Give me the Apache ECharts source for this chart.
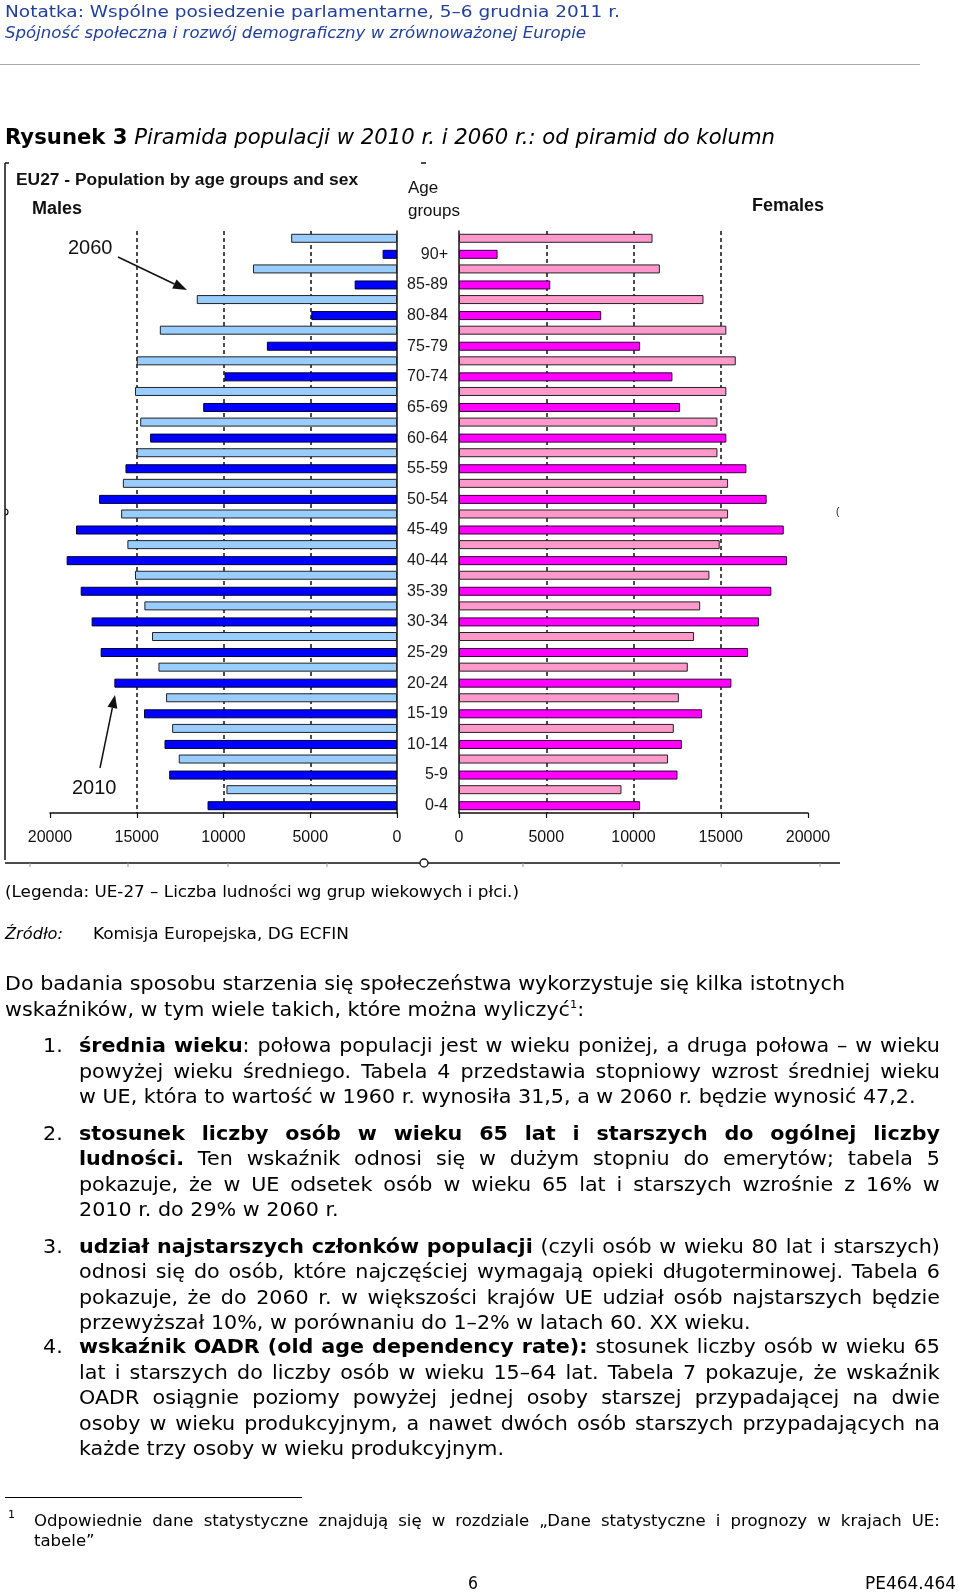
<!DOCTYPE html>
<html><head><meta charset="utf-8">
<script src="https://cdn.jsdelivr.net/npm/echarts@6/dist/echarts.min.js"></script>
<style>
html,body{margin:0;padding:0;background:#fff;}
#chart{position:absolute;left:0;top:0;width:960px;height:1594px;}
#txt{position:absolute;left:0;top:0;width:960px;height:1594px;pointer-events:none;font-family:"DejaVu Sans",Verdana,sans-serif;color:#000;}
.ln{position:absolute;white-space:nowrap;transform-origin:0 0;}
sup{font-size:0.55em;vertical-align:0.7em;line-height:0;}
</style></head><body>
<div id="chart"></div><div id="txt"></div>
<script>
// ---------- data ----------
const ageGroups = ['0-4','5-9','10-14','15-19','20-24','25-29','30-34','35-39','40-44','45-49','50-54','55-59','60-64','65-69','70-74','75-79','80-84','85-89','90+'];
const males2060   = [9830,12580,12960,13310,13750,14120,14560,15100,15540,15900,15800,15000,14800,15100,15000,13670,11540,8300,6100];
const males2010   = [10920,13130,13400,14580,16290,17080,17600,18230,19040,18500,17170,15650,14230,11170,9940,7500,4940,2440,830];
const females2060 = [9310,11980,12310,12600,13110,13470,13820,14350,14940,15420,15420,14810,14810,15320,15860,15320,14010,11510,11090];
const females2010 = [10380,12520,12770,13930,15610,16560,17190,17900,18800,18610,17630,16470,15320,12670,12230,10380,8150,5230,2210];
const axisMax = 20000;
const tickStep = 5000;

const FONT = '"Liberation Sans", Arial, sans-serif';
const chart = echarts.init(document.getElementById('chart'), null, {renderer:'canvas'});

function xAx(grid, inverse){
  return {
    gridIndex: grid, type:'value', inverse: inverse, min:0, max:axisMax, interval:tickStep,
    axisLine:{show:true, onZero:false, lineStyle:{color:'#111', width:1.5}},
    axisTick:{show:true, length:5, lineStyle:{color:'#111', width:1.2}},
    axisLabel:{margin:17, fontSize:16, lineHeight:16, color:'#111', fontFamily:FONT, formatter: v => String(v)},
    splitLine:{show:true, lineStyle:{type:[4,3], width:1.5, color:['rgba(0,0,0,0)','#111','#111','#111','rgba(0,0,0,0)']}}
  };
}
function barS(xi, data, color, border){
  return {type:'bar', xAxisIndex:xi, yAxisIndex:xi, data:data, barWidth:9, barGap:'78%',
    itemStyle:{color:color, borderColor:border, borderWidth:1}, silent:true, animation:false};
}
const ar = (x1,y1,x2,y2)=>({type:'line', z:100, shape:{x1,y1,x2,y2}, style:{stroke:'#111', lineWidth:1.5}});
const tx = (x,y,text,font,align)=>({type:'text', z:100, style:{x,y,text,font,fill:'#111',align:align||'left',verticalAlign:'middle'}});

const frameTicks = [30,128,228,327,523,622,721,820];
const graphics = [
  tx(16,180,'EU27 - Population by age groups and sex','bold 17.4px '+FONT),
  tx(32,209,'Males','bold 18px '+FONT),
  tx(752,206,'Females','bold 18px '+FONT),
  tx(408,188,'Age','17px '+FONT),
  tx(408,211,'groups','17px '+FONT),
  tx(68,248,'2060','20px '+FONT),
  tx(72,788,'2010','20px '+FONT),
  ar(118,257,174.4,284),
  {type:'polygon', z:100, shape:{points:[[187,290],[172.2,288.5],[176.5,279.5]]}, style:{fill:'#111'}},
  ar(100,768,112.4,707.7),
  {type:'polygon', z:100, shape:{points:[[115,695],[117.3,708.7],[107.5,706.7]]}, style:{fill:'#111'}},
  // page frame remnants
  ar(5,163,5,860), ar(5,163,9,163),
  ar(5,863,840,863),
  {type:'arc', z:100, shape:{cx:5,cy:512,r:3,startAngle:-Math.PI/2,endAngle:Math.PI/2}, style:{stroke:'#111',fill:null,lineWidth:1.2}},
  {type:'circle', z:101, shape:{cx:424,cy:863,r:4}, style:{fill:'#fff',stroke:'#111',lineWidth:1.3}},
  ar(421,163,426,163),
  tx(836,512,'(','10px '+FONT)
];
frameTicks.forEach(x=>graphics.push({type:'line', z:100, shape:{x1:x,y1:863,x2:x,y2:867}, style:{stroke:'#999',lineWidth:1}}));

chart.setOption({
  animation:false,
  backgroundColor:'#fff',
  grid:[{left:50, top:231, width:347, height:582},{left:459, top:231, width:349, height:582}],
  xAxis:[xAx(0,true), xAx(1,false)],
  yAxis:[
    {gridIndex:0, type:'category', data:ageGroups, position:'right',
     axisLine:{show:true, onZero:false, lineStyle:{color:'#111',width:1.5}}, axisTick:{show:false}, axisLabel:{show:false}, splitLine:{show:false}},
    {gridIndex:1, type:'category', data:ageGroups, position:'left',
     axisLine:{show:true, onZero:false, lineStyle:{color:'#111',width:1.5}}, axisTick:{show:false},
     axisLabel:{show:true, interval:0, margin:11, fontSize:16, lineHeight:16, verticalAlign:'top', color:'#1a1a1a', fontFamily:FONT}, splitLine:{show:false}}
  ],
  series:[
    barS(0, males2060, '#99CCFF', '#222'),
    barS(0, males2010, '#0000FF', '#000033'),
    barS(1, females2060, '#FF99CC', '#222'),
    barS(1, females2010, '#FF00FF', '#330033')
  ],
  graphic:{elements:graphics}
});

// ---------- document text ----------
const txt = document.getElementById('txt');
function measure(html, size, extra){
  const p = document.createElement('span');
  p.style.cssText = 'position:absolute;left:0;top:0;white-space:nowrap;visibility:hidden;font-size:'+size+'px;'+(extra||'');
  p.innerHTML = html; txt.appendChild(p);
  const w = p.getBoundingClientRect().width; p.remove(); return w;
}
function place(x, yc, size, html, s, extra){
  const d = document.createElement('div'); d.className='ln';
  d.style.cssText += 'left:'+x+'px;top:'+(yc-size/2)+'px;font-size:'+size+'px;line-height:'+size+'px;transform:scaleX('+s+');'+(extra||'');
  d.innerHTML = html; txt.appendChild(d); return d;
}
function ragged(x, yc, right, size, html, extra){
  const s = (right-x)/measure(html,size,extra);
  return place(x,yc,size,html,s,extra);
}
const md = src => src.replace(/\*([^*]+)\*/g,'<b>$1</b>');
function justified(x, yc, right, size, src, S){
  const W = right-x;
  const s = Math.min(S, W/measure(md(src),size));
  const d = document.createElement('div'); d.className='ln';
  d.style.cssText += 'left:'+x+'px;top:'+(yc-size/2)+'px;width:'+(W/s)+'px;font-size:'+size+'px;line-height:'+size+'px;display:flex;justify-content:space-between;transform:scaleX('+s+');';
  let bold=false; const parts=[];
  src.split(' ').forEach(tok=>{
    let cur = bold ? '<b>' : '';
    for (const ch of tok){
      if (ch==='*'){ if(bold){cur+='</b>';bold=false;} else {cur+='<b>';bold=true;} }
      else cur+=ch;
    }
    if (bold) cur+='</b>';
    parts.push('<span>'+cur+'</span>');
  });
  d.innerHTML = parts.join(''); txt.appendChild(d);
}

// header
ragged(5,12,620,16,'Notatka: Wspólne posiedzenie parlamentarne, 5–6 grudnia 2011 r.','color:#22409a;');
ragged(5,33,586,16,'Spójność społeczna i rozwój demograficzny w zrównoważonej Europie','color:#22409a;font-style:italic;');
const rule = document.createElement('div');
rule.style.cssText='position:absolute;left:0;top:64px;width:920px;height:0;border-top:1.5px solid #aaa;';
txt.appendChild(rule);
ragged(5,137,775,21,'<b>Rysunek 3</b> <i>Piramida populacji w 2010 r. i 2060 r.: od piramid do kolumn</i>');

// captions
ragged(5,892,519,16,'(Legenda: UE-27 – Liczba ludności wg grup wiekowych i płci.)');
ragged(5,934,63,16,'<i>Źródło:</i>');
ragged(93,934,349,16,'Komisja Europejska, DG ECFIN');

// paragraph
const p1 = 'Do badania sposobu starzenia się społeczeństwa wykorzystuje się kilka istotnych';
const S = (845-5)/measure(p1,20);
place(5,983,20,p1,S);
place(5,1009,20,'wskaźników, w tym wiele takich, które można wyliczyć<sup>1</sup>:',S);

const L = 79, R = 940, NX = 43;
const items = [
  {n:'1.', lines:[
    [1045,'*średnia wieku*: połowa populacji jest w wieku poniżej, a druga połowa – w wieku',true],
    [1071,'powyżej wieku średniego. Tabela 4 przedstawia stopniowy wzrost średniej wieku',true],
    [1096,'w UE, która to wartość w 1960 r. wynosiła 31,5, a w 2060 r. będzie wynosić 47,2.',false]]},
  {n:'2.', lines:[
    [1133,'*stosunek liczby osób w wieku 65 lat i starszych do ogólnej liczby*',true],
    [1158,'*ludności.* Ten wskaźnik odnosi się w dużym stopniu do emerytów; tabela 5',true],
    [1184,'pokazuje, że w UE odsetek osób w wieku 65 lat i starszych wzrośnie z 16% w',true],
    [1209,'2010 r. do 29% w 2060 r.',false]]},
  {n:'3.', lines:[
    [1246,'*udział najstarszych członków populacji* (czyli osób w wieku 80 lat i starszych)',true],
    [1271,'odnosi się do osób, które najczęściej wymagają opieki długoterminowej. Tabela 6',true],
    [1297,'pokazuje, że do 2060 r. w większości krajów UE udział osób najstarszych będzie',true],
    [1322,'przewyższał 10%, w porównaniu do 1–2% w latach 60. XX wieku.',false]]},
  {n:'4.', lines:[
    [1346,'*wskaźnik OADR (old age dependency rate):* stosunek liczby osób w wieku 65',true],
    [1372,'lat i starszych do liczby osób w wieku 15–64 lat. Tabela 7 pokazuje, że wskaźnik',true],
    [1397,'OADR osiągnie poziomy powyżej jednej osoby starszej przypadającej na dwie',true],
    [1423,'osoby w wieku produkcyjnym, a nawet dwóch osób starszych przypadających na',true],
    [1448,'każde trzy osoby w wieku produkcyjnym.',false]]}
];
items.forEach(it=>{
  place(NX, it.lines[0][0], 20, it.n, S);
  it.lines.forEach(([y,src,j])=>{
    if (j) justified(L,y,R,20,src,S);
    else place(L,y,20,md(src),S);
  });
});

// footnote
const fr = document.createElement('div');
fr.style.cssText='position:absolute;left:5px;top:1497px;width:297px;height:0;border-top:1.5px solid #000;';
txt.appendChild(fr);
place(8,1514,11,'1',1);
const fS = S;
justified(34,1521,940,16,'Odpowiednie dane statystyczne znajdują się w rozdziale „Dane statystyczne i prognozy w krajach UE:',fS);
place(34,1541,16,'tabele”',fS);
ragged(468,1583,478,18,'6');
ragged(865,1583,956,17,'PE464.464');
</script>
</body></html>
